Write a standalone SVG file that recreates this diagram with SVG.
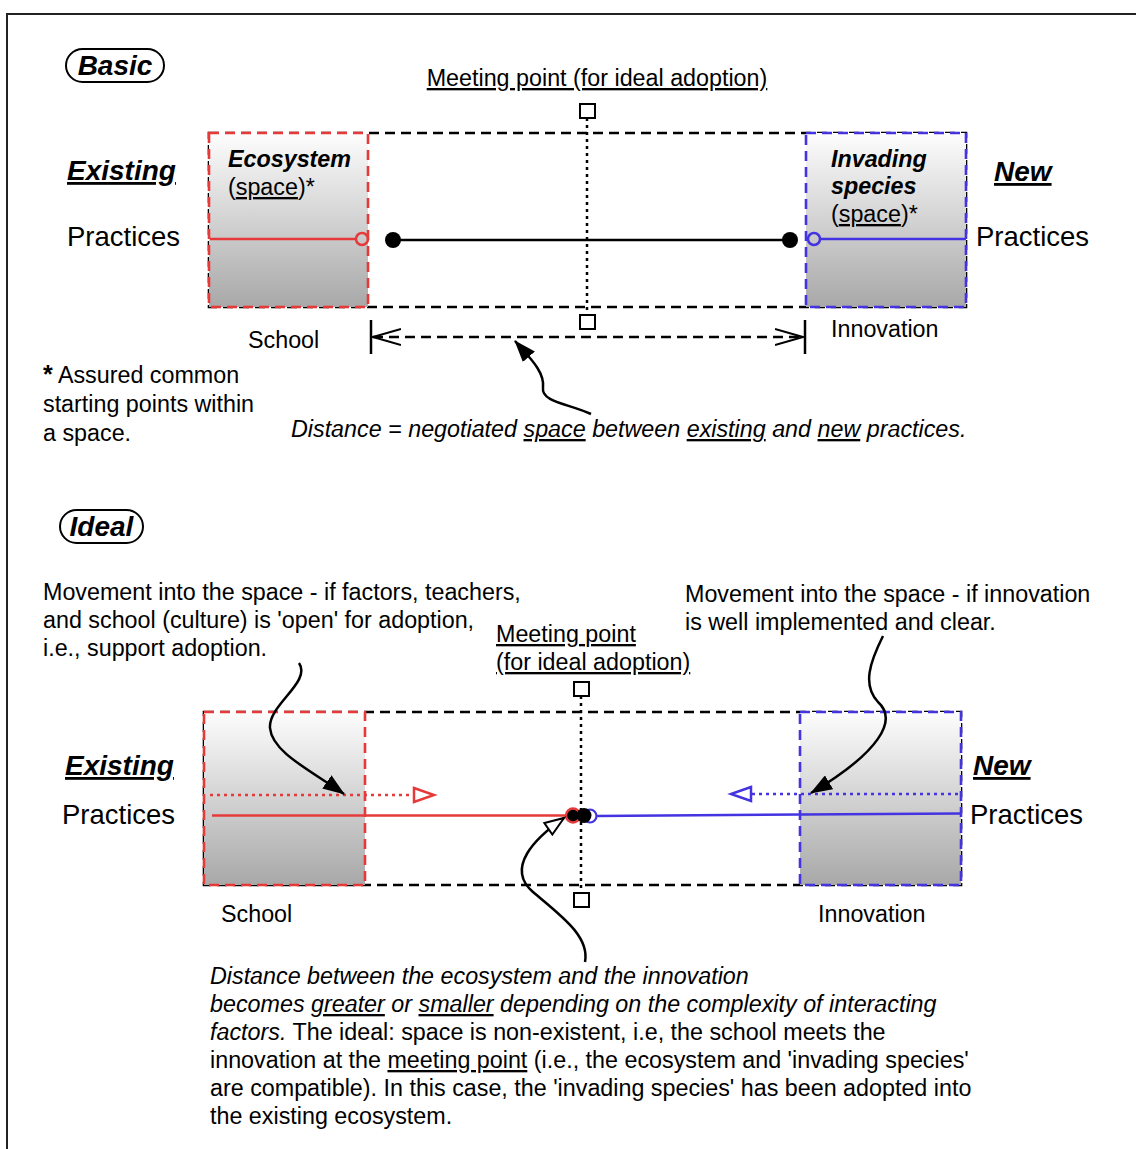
<svg xmlns="http://www.w3.org/2000/svg" width="1136" height="1149" viewBox="0 0 1136 1149">
  <defs>
    <linearGradient id="boxShade" x1="0" y1="0" x2="0" y2="1">
      <stop offset="0" stop-color="#fdfdfd"/>
      <stop offset="1" stop-color="#a8a8a8"/>
    </linearGradient>
    <marker id="headFilled" markerUnits="userSpaceOnUse" markerWidth="22" markerHeight="16" viewBox="0 0 22 16" refX="21" refY="8" orient="auto">
      <path d="M0,0 L22,8 L0,16 z" fill="#000"/>
    </marker>
    <marker id="headHollow" markerUnits="userSpaceOnUse" markerWidth="24" markerHeight="18" viewBox="0 0 24 18" refX="21" refY="9" orient="auto">
      <path d="M2,2 L21,9 L2,16 z" fill="#fff" stroke="#000" stroke-width="2"/>
    </marker>
    <marker id="headOpenV" markerUnits="userSpaceOnUse" markerWidth="30" markerHeight="20" viewBox="0 0 30 20" refX="28" refY="10" orient="auto-start-reverse">
      <path d="M0,2 L28,10 L0,18" fill="none" stroke="#000" stroke-width="2"/>
    </marker>
    <style>
      text { font-family: "Liberation Sans", Arial, Helvetica, sans-serif; fill: #000; }
      .t { font-size: 23.3px; }
      .it { font-style: italic; }
      .bi { font-style: italic; font-weight: bold; }
      .big { font-size: 27.5px; }
      .head { font-size: 28px; font-style: italic; font-weight: bold; }
      .u { text-decoration: underline; }
      .pill { fill: #fff; stroke: #000; stroke-width: 2; }
      .span { fill: none; stroke: #000; stroke-width: 2.6; stroke-dasharray: 10 6; }
      .school { fill: url(#boxShade); stroke: #e63a3a; stroke-width: 2.6; stroke-dasharray: 10 6; }
      .innov { fill: url(#boxShade); stroke: #4433e0; stroke-width: 2.6; stroke-dasharray: 10 6; }
      .axis { fill: none; stroke: #000; stroke-width: 2.5; stroke-dasharray: 3 4; }
      .mp { fill: #fff; stroke: #000; stroke-width: 2; }
      .redline { stroke: #e63a3a; stroke-width: 2.5; fill: none; }
      .blueline { stroke: #4433e0; stroke-width: 2.5; fill: none; }
      .reddot { stroke: #e63a3a; stroke-width: 2.5; fill: none; stroke-dasharray: 3 4; }
      .bluedot { stroke: #4433e0; stroke-width: 2.5; fill: none; stroke-dasharray: 3 4; }
      .curve { fill: none; stroke: #000; stroke-width: 2.5; }
    </style>
  </defs>

  <rect width="1136" height="1149" fill="#fff"/>

  <!-- page frame -->
  <rect id="frame" x="7" y="14" width="1150" height="1160" fill="none" stroke="#222" stroke-width="2"/>

  <!-- ===== Basic ===== -->
  <g id="basic-title">
    <rect class="pill" x="66" y="49" width="98" height="33" rx="16.5"/>
    <text class="head" x="115" y="75" text-anchor="middle" font-size="27">Basic</text>
  </g>

  <g id="basic-meeting-label">
    <text class="t u" x="597" y="86" text-anchor="middle">Meeting point (for ideal adoption)</text>
  </g>

  <g id="basic-existing">
    <text class="head u" x="67" y="180">Existing</text>
    <text class="big" x="67" y="246">Practices</text>
  </g>

  <g id="basic-new">
    <text class="head u" x="994" y="181">New</text>
    <text class="big" x="976" y="246">Practices</text>
  </g>

  <g id="basic-space">
    <rect class="span" x="209" y="133" width="757" height="174"/>
  </g>

  <g id="basic-ecosystem">
    <rect class="school" x="209" y="133" width="159" height="174"/>
    <text class="t bi" x="228" y="167">Ecosystem</text>
    <text class="t" x="228" y="195">(<tspan class="u">space</tspan>)*</text>
  </g>

  <g id="basic-invading">
    <rect class="innov" x="806" y="133" width="160" height="174"/>
    <text class="t bi" x="831" y="167">Invading</text>
    <text class="t bi" x="831" y="194">species</text>
    <text class="t" x="831" y="222">(<tspan class="u">space</tspan>)*</text>
  </g>

  <g id="basic-meeting-point">
    <line class="axis" x1="587" y1="118" x2="587" y2="315"/>
    <rect class="mp" x="580" y="104" width="15" height="14"/>
    <rect class="mp" x="580" y="315" width="15" height="14"/>
  </g>

  <g id="basic-school-label">
    <text class="t" x="248" y="348">School</text>
  </g>
  <g id="basic-innovation-label">
    <text class="t" x="831" y="337">Innovation</text>
  </g>

  <g id="basic-footnote">
    <text class="t" x="43" y="383"><tspan font-weight="bold" font-size="25">*</tspan> Assured common</text>
    <text class="t" x="43" y="412">starting points within</text>
    <text class="t" x="43" y="441">a space.</text>
  </g>

  <g id="basic-distance-label">
    <text class="t it" x="291" y="437">Distance = negotiated <tspan class="u">space</tspan> between <tspan class="u">existing</tspan> and <tspan class="u">new</tspan> practices.</text>
  </g>

  <!-- ===== Ideal ===== -->
  <g id="ideal-title">
    <rect class="pill" x="60" y="510" width="83" height="33" rx="16.5"/>
    <text class="head" x="101.5" y="536" text-anchor="middle" font-size="27">Ideal</text>
  </g>

  <g id="ideal-school-note">
    <text class="t" x="43" y="600">Movement into the space - if factors, teachers,</text>
    <text class="t" x="43" y="628">and school (culture) is 'open' for adoption,</text>
    <text class="t" x="43" y="656">i.e., support adoption.</text>
  </g>

  <g id="ideal-innovation-note">
    <text class="t" x="685" y="602">Movement into the space - if innovation</text>
    <text class="t" x="685" y="630">is well implemented and clear.</text>
  </g>

  <g id="ideal-meeting-label">
    <text class="t u" x="496" y="642">Meeting point</text>
    <text class="t u" x="496" y="670">(for ideal adoption)</text>
  </g>

  <g id="ideal-existing">
    <text class="head u" x="65" y="775">Existing</text>
    <text class="big" x="62" y="824">Practices</text>
  </g>

  <g id="ideal-new">
    <text class="head u" x="973" y="775">New</text>
    <text class="big" x="970" y="824">Practices</text>
  </g>

  <g id="ideal-space">
    <rect class="span" x="204" y="712" width="757" height="173"/>
  </g>

  <g id="ideal-school">
    <rect class="school" x="204" y="712" width="161" height="173"/>
    <text class="t" x="221" y="922">School</text>
  </g>

  <g id="ideal-innovation">
    <rect class="innov" x="800" y="712" width="161" height="173"/>
    <text class="t" x="818" y="922">Innovation</text>
  </g>

  <g id="ideal-meeting-point">
    <line class="axis" x1="581" y1="696" x2="581" y2="893"/>
    <rect class="mp" x="574" y="682" width="15" height="14"/>
    <rect class="mp" x="574" y="893" width="15" height="14"/>
  </g>

  <g id="ideal-summary">
    <text class="t it" x="210" y="984">Distance between the ecosystem and the innovation</text>
    <text class="t it" x="210" y="1012">becomes <tspan class="u">greater</tspan> or <tspan class="u">smaller</tspan> depending on the complexity of interacting</text>
    <text class="t" x="210" y="1040"><tspan class="it">factors.</tspan> The ideal: space is non-existent, i.e, the school meets the</text>
    <text class="t" x="210" y="1068">innovation at the <tspan class="u">meeting point</tspan> (i.e., the ecosystem and 'invading species'</text>
    <text class="t" x="210" y="1096">are compatible). In this case, the 'invading species' has been adopted into</text>
    <text class="t" x="210" y="1124">the existing ecosystem.</text>
  </g>

  <!-- ===== connectors ===== -->
  <g id="connectors">
    <!-- basic: practice lines -->
    <line class="redline" x1="210" y1="239" x2="356" y2="239"/>
    <circle cx="362" cy="239" r="6" fill="none" stroke="#e63a3a" stroke-width="2.5"/>
    <line x1="393" y1="240" x2="790" y2="240" stroke="#000" stroke-width="2.5"/>
    <circle cx="393" cy="240" r="8" fill="#000"/>
    <circle cx="790" cy="240" r="8" fill="#000"/>
    <circle cx="814" cy="239" r="6" fill="none" stroke="#4433e0" stroke-width="2.5"/>
    <line class="blueline" x1="820" y1="239" x2="966" y2="239"/>

    <!-- basic: distance span -->
    <line x1="371" y1="320" x2="371" y2="354" stroke="#000" stroke-width="2.5"/>
    <line x1="805" y1="320" x2="805" y2="354" stroke="#000" stroke-width="2.5"/>
    <line x1="373" y1="337" x2="803" y2="337" stroke="#000" stroke-width="2.5" stroke-dasharray="10 6" marker-start="url(#headOpenV)" marker-end="url(#headOpenV)"/>
    <path class="curve" d="M591,414 C570,404 541,402 543,388 C545,372 530,358 515,341" marker-end="url(#headFilled)"/>

    <!-- ideal: school movement -->
    <line class="reddot" x1="210" y1="795" x2="413" y2="795"/>
    <polygon points="414,788 434,795 414,802" fill="#fff" stroke="#e63a3a" stroke-width="2.5"/>
    <line class="redline" x1="212" y1="815.5" x2="566" y2="815.5"/>

    <!-- ideal: innovation movement -->
    <line class="bluedot" x1="752" y1="794" x2="961" y2="794"/>
    <polygon points="751,787 731,794 751,801" fill="#fff" stroke="#4433e0" stroke-width="2.5"/>
    <line class="blueline" x1="596" y1="816" x2="961" y2="813.5"/>

    <!-- ideal: meeting at the point -->
    <circle cx="590" cy="816" r="6.5" fill="#fff" stroke="#4433e0" stroke-width="2.2"/>
    <circle cx="573" cy="815.5" r="7" fill="#000" stroke="#e63a3a" stroke-width="2.5"/>
    <circle cx="584" cy="815.5" r="7.5" fill="#000"/>

    <!-- ideal: callout curves -->
    <path class="curve" d="M299,663 C312,682 268,705 270,728 C272,752 310,770 344,794" marker-end="url(#headFilled)"/>
    <path class="curve" d="M883,636 C870,662 862,685 878,702 C898,720 880,752 811,793" marker-end="url(#headFilled)"/>
    <path class="curve" d="M585,962 C590,936 560,915 533,892 C505,868 535,838 564,818" marker-end="url(#headHollow)"/>
  </g>
</svg>
